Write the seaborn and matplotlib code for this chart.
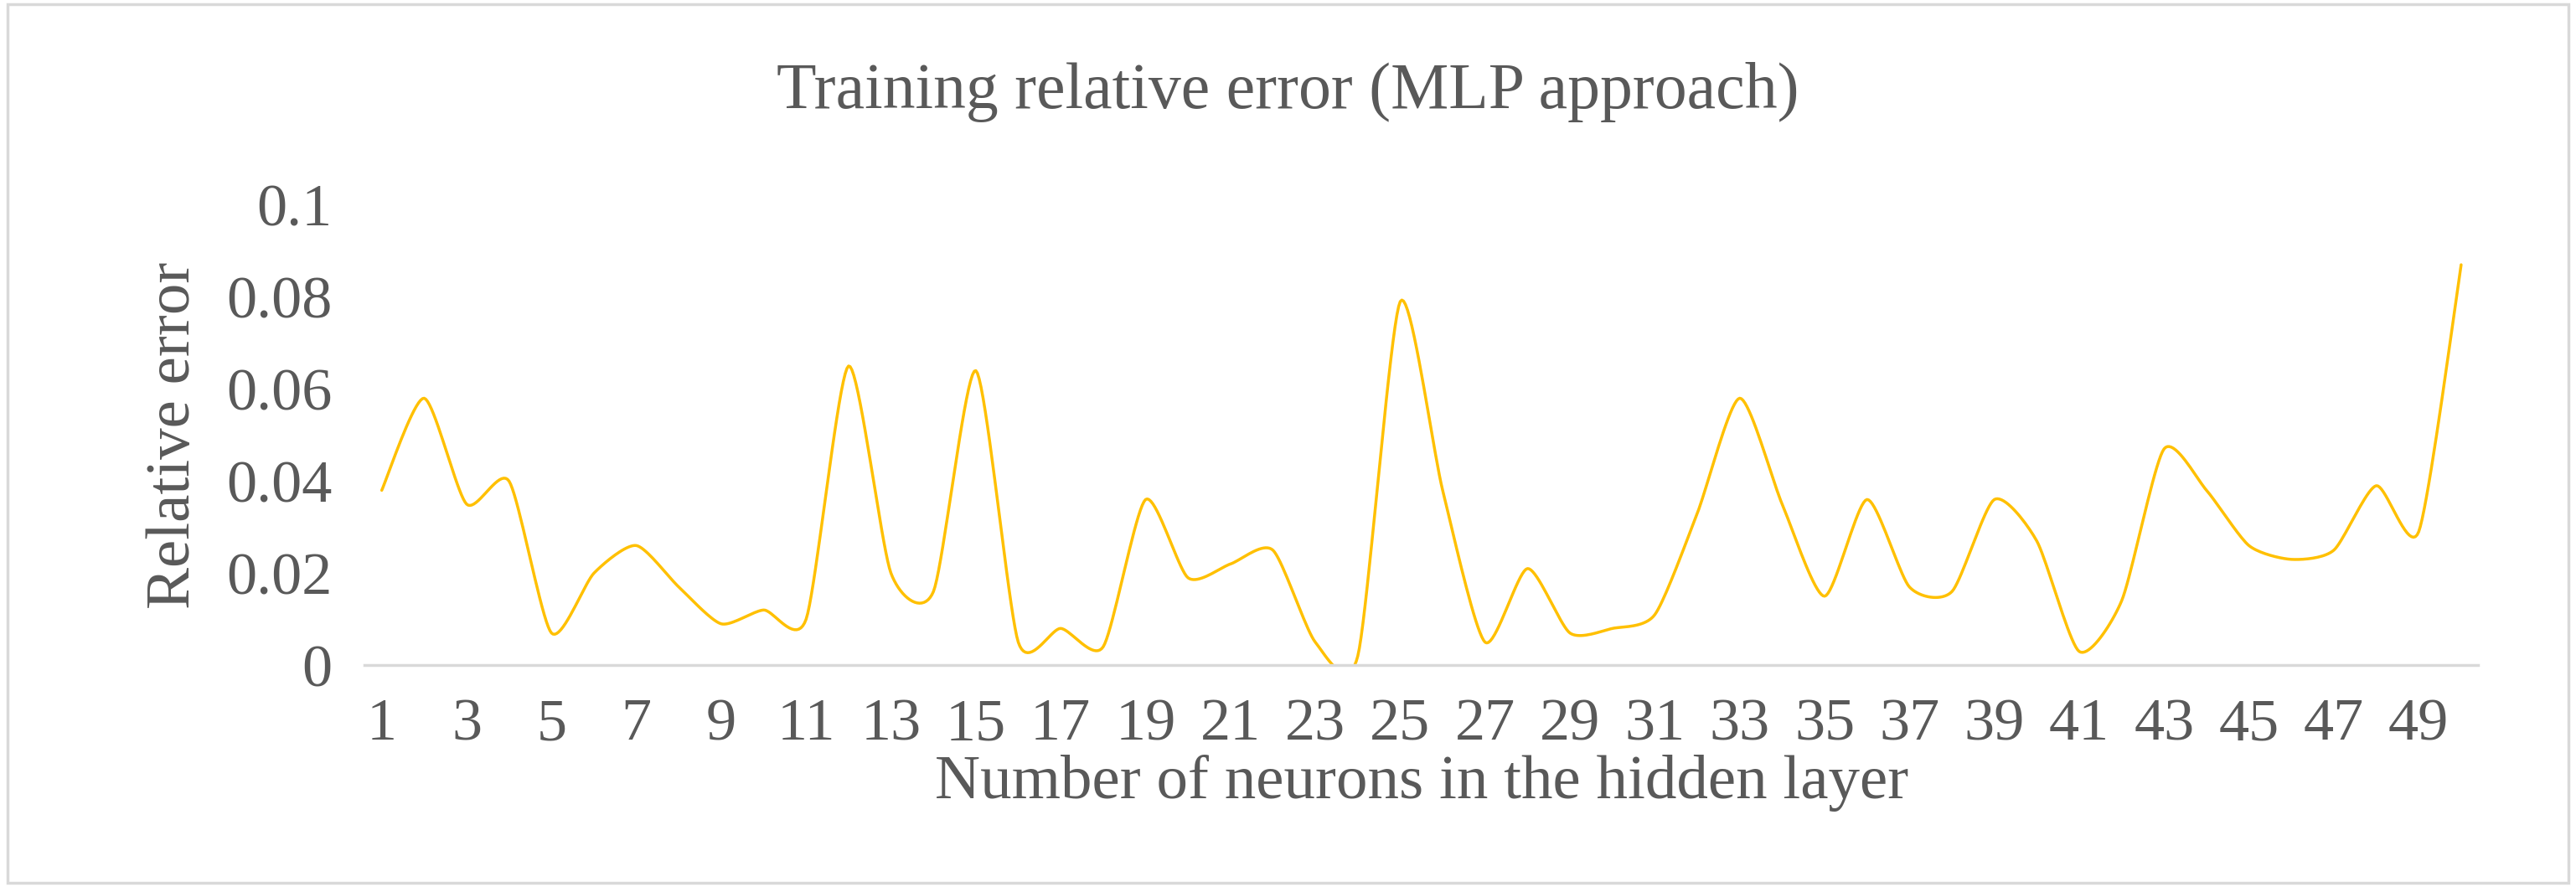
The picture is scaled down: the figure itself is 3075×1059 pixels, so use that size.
import numpy as np
import matplotlib
matplotlib.use("Agg")
import matplotlib.pyplot as plt
import seaborn as sns

# Relative error per number of hidden neurons
neurons = list(range(1, 51))
rel_error = [0.038, 0.058, 0.035, 0.040, 0.007, 0.020, 0.026, 0.017, 0.009, 0.012,
             0.010, 0.065, 0.020, 0.016, 0.064, 0.005, 0.008, 0.004, 0.036, 0.019,
             0.022, 0.025, 0.005, 0.002, 0.079, 0.038, 0.005, 0.021, 0.007, 0.008,
             0.011, 0.033, 0.058, 0.035, 0.015, 0.036, 0.017, 0.016, 0.036, 0.027,
             0.003, 0.014, 0.047, 0.038, 0.026, 0.023, 0.025, 0.039, 0.029, 0.087]
x_ticks = list(range(1, 50, 2))
y_ticks = [0, 0.02, 0.04, 0.06, 0.08, 0.1]
y_labels = ["0", "0.02", "0.04", "0.06", "0.08", "0.1"]


def smooth_line(x, y, steps=20, k=0.35):
    # smoothed line drawing (cardinal spline through the points)
    x = np.asarray(x, float)
    y = np.asarray(y, float)
    px = np.concatenate([[x[0]], x, [x[-1]]])
    py = np.concatenate([[y[0]], y, [y[-1]]])
    t = np.linspace(0, 1, steps, endpoint=False)
    h00 = 2 * t**3 - 3 * t**2 + 1
    h10 = t**3 - 2 * t**2 + t
    h01 = -2 * t**3 + 3 * t**2
    h11 = t**3 - t**2
    xs, ys = [], []
    for i in range(1, len(px) - 2):
        for p, out in ((px, xs), (py, ys)):
            m1 = k * (p[i + 1] - p[i - 1])
            m2 = k * (p[i + 2] - p[i])
            out.extend(h00 * p[i] + h10 * m1 + h01 * p[i + 1] + h11 * m2)
    xs.append(x[-1])
    ys.append(y[-1])
    return np.array(xs), np.array(ys)


sns.set_style("white")
plt.rcParams["font.family"] = ["Liberation Serif", "DejaVu Serif"]
grey = "#595959"

fig = plt.figure(figsize=(30.75, 10.59), dpi=100)
ax = fig.add_axes([0.1416, 0.25, 0.8204, 0.519])

sx, sy = smooth_line(neurons, rel_error)
sns.lineplot(x=sx, y=sy, ax=ax, color="#FFC000", linewidth=2.5, sort=False)

ax.set_xlim(0.6, 50.4)
ax.set_ylim(0, 0.1)
ax.set_xticks(x_ticks)
ax.set_yticks(y_ticks)
ax.set_yticklabels(y_labels)
ax.tick_params(axis="both", length=0, labelsize=52, labelcolor=grey, pad=28)
for side in ["top", "right", "left"]:
    ax.spines[side].set_visible(False)
ax.spines["bottom"].set_color("#D9D9D9")
ax.spines["bottom"].set_linewidth(2.5)

ax.set_xlabel("Number of neurons in the hidden layer", fontsize=54, color=grey, labelpad=2)
ax.set_ylabel("Relative error", fontsize=54, color=grey, labelpad=20)
fig.suptitle("Training relative error (MLP approach)", fontsize=56, color=grey, y=0.93)

# light frame around the chart
fig.patches.append(plt.Rectangle((0.003, 0.005), 0.994, 0.99, transform=fig.transFigure,
                                 fill=False, edgecolor="#D9D9D9", linewidth=2.5))

fig.savefig("out.png", dpi=100)
